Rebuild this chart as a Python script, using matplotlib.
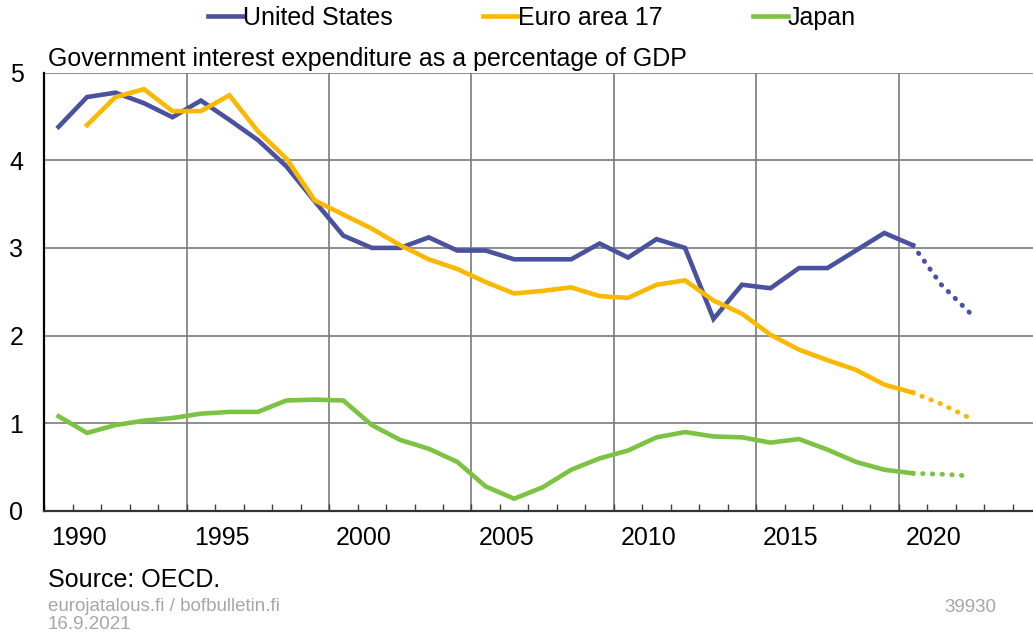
import matplotlib.pyplot as plt
from matplotlib.lines import Line2D

plt.rcParams['font.family'] = ['Liberation Sans', 'DejaVu Sans']

years = list(range(1989, 2022))
us = [4.38, 4.72, 4.77, 4.65, 4.49, 4.68, 4.46, 4.23, 3.93, 3.53, 3.14,
      3.00, 3.00, 3.12, 2.97, 2.97, 2.87, 2.87, 2.87, 3.05, 2.89,
      3.10, 3.00, 2.19, 2.58, 2.54, 2.77, 2.77, 2.97, 3.17, 3.03,
      2.58, 2.26]
euro = [None, 4.40, 4.72, 4.81, 4.56, 4.56, 4.74, 4.33, 4.02, 3.54, 3.38,
        3.22, 3.03, 2.87, 2.76, 2.61, 2.48, 2.51, 2.55, 2.45, 2.43,
        2.58, 2.63, 2.40, 2.25, 2.01, 1.84, 1.72, 1.61, 1.44, 1.35,
        1.22, 1.06]
japan = [1.08, 0.89, 0.98, 1.03, 1.06, 1.11, 1.13, 1.13, 1.26, 1.27, 1.26,
         0.98, 0.81, 0.71, 0.56, 0.28, 0.14, 0.27, 0.47, 0.60, 0.69,
         0.84, 0.90, 0.85, 0.84, 0.78, 0.82, 0.70, 0.56, 0.47, 0.43,
         0.42, 0.40]
last_actual = 2019

names = ['United States', 'Euro area 17', 'Japan']
colors = ['#4a519e', '#fbb800', '#7cc243']
label_years = [1990, 1995, 2000, 2005, 2010, 2015, 2020]

fig = plt.figure(figsize=(10.33, 6.34), dpi=100)
ax = fig.add_axes([44.3 / 1033, 123 / 634, 996.7 / 1033, 438.5 / 634])

# grid
for y in [1, 2, 3, 4, 5]:
    ax.axhline(y, color='#7a7a7a', lw=1.2, zorder=1)
for x in range(1993, 2024, 5):
    ax.axvline(x + 0.5, color='#7a7a7a', lw=1.2, zorder=1)

handles = []
for name, vals, c in zip(names, [us, euro, japan], colors):
    xs = [y for y, v in zip(years, vals) if v is not None and y <= last_actual]
    ys = [v for y, v in zip(years, vals) if v is not None and y <= last_actual]
    ax.plot(xs, ys, color=c, lw=3.3, solid_joinstyle='miter', zorder=3)
    fx = [y for y in years if y >= last_actual]
    fy = [v for y, v in zip(years, vals) if y >= last_actual]
    ax.plot(fx, fy, color=c, lw=3.5, linestyle=(0, (0.1, 1.9)),
            dash_capstyle='round', zorder=3)
    handles.append(Line2D([], [], color=c, lw=3.3))

ax.set_xlim(1988.5, 2023.5)
ax.set_ylim(0, 5)
ax.set_yticks([0, 1, 2, 3, 4, 5])
ax.tick_params(axis='y', length=0, pad=15, labelsize=18)
ax.set_xticks([y - 0.28 for y in label_years])
ax.set_xticklabels([str(y) for y in label_years])
ax.tick_params(axis='x', which='major', length=0, pad=11, labelsize=18)
ax.set_xticks([y + 0.5 for y in range(1988, 2024)], minor=True)
ax.tick_params(axis='x', which='minor', direction='in', length=5,
               width=1, color='#404040')

for s in ['top', 'right']:
    ax.spines[s].set_visible(False)
ax.spines['left'].set_color('black')
ax.spines['left'].set_linewidth(1.6)
ax.spines['bottom'].set_color('#333333')
ax.spines['bottom'].set_linewidth(1.6)
ax.spines['left'].set_zorder(4)
ax.spines['bottom'].set_zorder(4)

fig.legend(handles, names, loc='center', bbox_to_anchor=(532 / 1033, 1 - 18 / 634),
           ncol=3, frameon=False, fontsize=18, handlelength=1.4,
           handletextpad=0.0, columnspacing=3.6)

fig.text(48 / 1033, 1 - 66 / 634, 'Government interest expenditure as a percentage of GDP',
         fontsize=18, va='baseline', ha='left')
fig.text(48 / 1033, 1 - 587 / 634, 'Source: OECD.', fontsize=18, va='baseline')
fig.text(48 / 1033, 1 - 611 / 634, 'eurojatalous.fi / bofbulletin.fi',
         fontsize=13.5, color='#a6a6a6', va='baseline')
fig.text(48 / 1033, 1 - 629 / 634, '16.9.2021', fontsize=13.5, color='#a6a6a6',
         va='baseline')
fig.text(996 / 1033, 1 - 612 / 634, '39930', fontsize=13.5, color='#a6a6a6',
         va='baseline', ha='right')

fig.savefig('out.png', dpi=100)
